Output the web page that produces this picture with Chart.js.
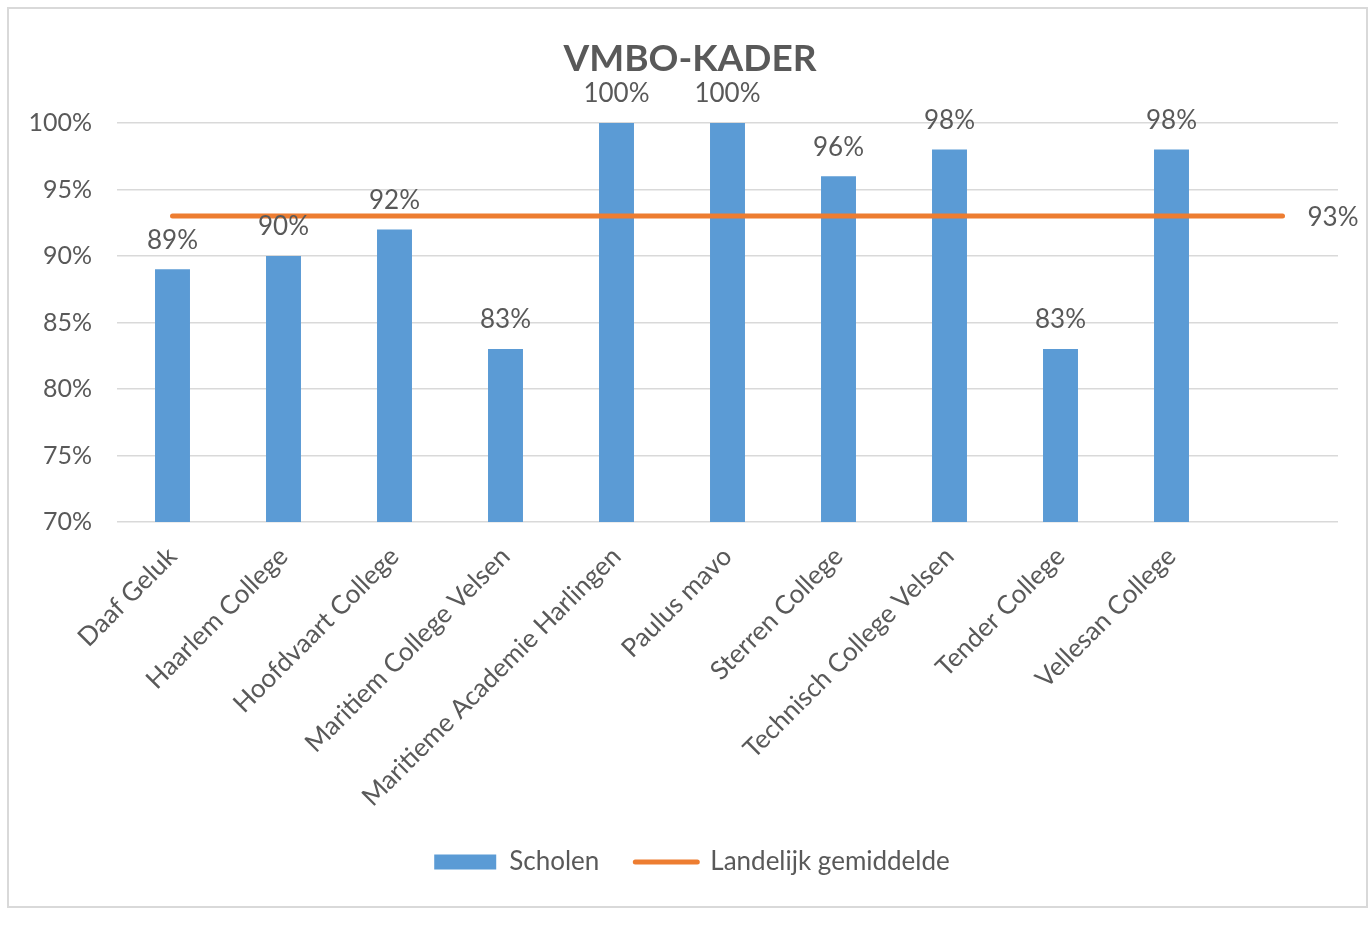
<!DOCTYPE html>
<html><head><meta charset="utf-8">
<script src="https://cdn.jsdelivr.net/npm/chart.js@4.4.1/dist/chart.umd.min.js"></script>
<style>
html,body{margin:0;padding:0;background:#fff;overflow:hidden;}
#frame{position:absolute;left:7px;top:7px;width:1361px;height:901px;border:2px solid #D9D9D9;box-sizing:border-box;}
canvas{position:absolute;left:0;top:0;}
</style></head><body>
<div id="frame"></div>
<canvas id="c" width="1371" height="938"></canvas>
<script>
const chartTitle = "VMBO-KADER";
const categories = ["Daaf Geluk","Haarlem College","Hoofdvaart College","Maritiem College Velsen","Maritieme Academie Harlingen","Paulus mavo","Sterren College","Technisch College Velsen","Tender College","Vellesan College",""];
const scholen = [89,90,92,83,100,100,96,98,83,98,null];
const landelijk = [93,93,93,93,93,93,93,93,93,93,93];
const yMin = 70, yMax = 100, yStep = 5;

const TEXT = '#595959';
const FONT = 'Lato';

const labelPlugin = {
  id: 'valueLabels',
  afterLayout(chart) {
    if (chart.titleBlock) chart.titleBlock.left += 42;
    if (chart.legend) chart.legend.left += 46;
  },
  afterDatasetsDraw(chart) {
    const ctx = chart.ctx;
    ctx.save();
    ctx.font = '26px ' + FONT;
    ctx.fillStyle = TEXT;
    ctx.textBaseline = 'middle';
    const m0 = chart.getDatasetMeta(0);
    ctx.textAlign = 'center';
    m0.data.forEach((el, i) => {
      const v = chart.data.datasets[0].data[i];
      if (v == null) return;
      ctx.fillText(v + '%', el.x, el.y - 29);
    });
    const m1 = chart.getDatasetMeta(1);
    const last = m1.data.length - 1;
    const el = m1.data[last];
    ctx.textAlign = 'left';
    ctx.fillText(chart.data.datasets[1].data[last] + '%', el.x + 25, el.y + 2);
    ctx.restore();
  }
};

new Chart(document.getElementById('c'), {
  data: {
    labels: categories,
    datasets: [
      { type: 'bar', label: 'Scholen', data: scholen, backgroundColor: '#5B9BD5', borderWidth: 0,
        categoryPercentage: 1, barPercentage: 0.315, order: 1 },
      { type: 'line', label: 'Landelijk gemiddelde', data: landelijk, borderColor: '#ED7D31', backgroundColor: '#ED7D31',
        borderWidth: 5, pointRadius: 0, borderCapStyle: 'round', order: 0 }
    ]
  },
  options: {
    responsive: false,
    animation: false,
    events: [],
    layout: { padding: { top: 37, left: 0, right: 33, bottom: 53 } },
    plugins: {
      tooltip: { enabled: false },
      title: { display: true, text: chartTitle, color: TEXT, font: { family: FONT, size: 37, weight: 'bold', lineHeight: 1.2 }, padding: { top: 0, bottom: 41.6 } },
      legend: {
        position: 'bottom',
        labels: {
          usePointStyle: true, pointStyleWidth: 62, boxHeight: 15, padding: 36,
          color: TEXT, font: { family: FONT, size: 26 },
          generateLabels: (chart) => chart.data.datasets.map((ds, i) => ({
            text: ds.label, fillStyle: ds.backgroundColor, strokeStyle: ds.borderColor || ds.backgroundColor,
            lineWidth: i === 0 ? 0 : 5, pointStyle: i === 0 ? 'rect' : 'line', lineCap: 'round',
            hidden: false, datasetIndex: i, fontColor: TEXT
          }))
        }
      }
    },
    scales: {
      x: {
        grid: { display: false },
        border: { display: false },
        ticks: { color: TEXT, font: { family: FONT, size: 26 }, maxRotation: 45, minRotation: 45, autoSkip: false, padding: 11 },
        afterFit(scale) { scale.height = 291; }
      },
      y: {
        min: yMin, max: yMax,
        grid: { color: '#D9D9D9', lineWidth: 1.5, drawTicks: false },
        border: { display: false },
        ticks: { stepSize: yStep, color: TEXT, font: { family: FONT, size: 25 }, padding: 25, callback: v => v + '%' },
        afterFit(scale) { scale.width = 117; }
      }
    }
  },
  plugins: [labelPlugin]
});
</script>
</body></html>
